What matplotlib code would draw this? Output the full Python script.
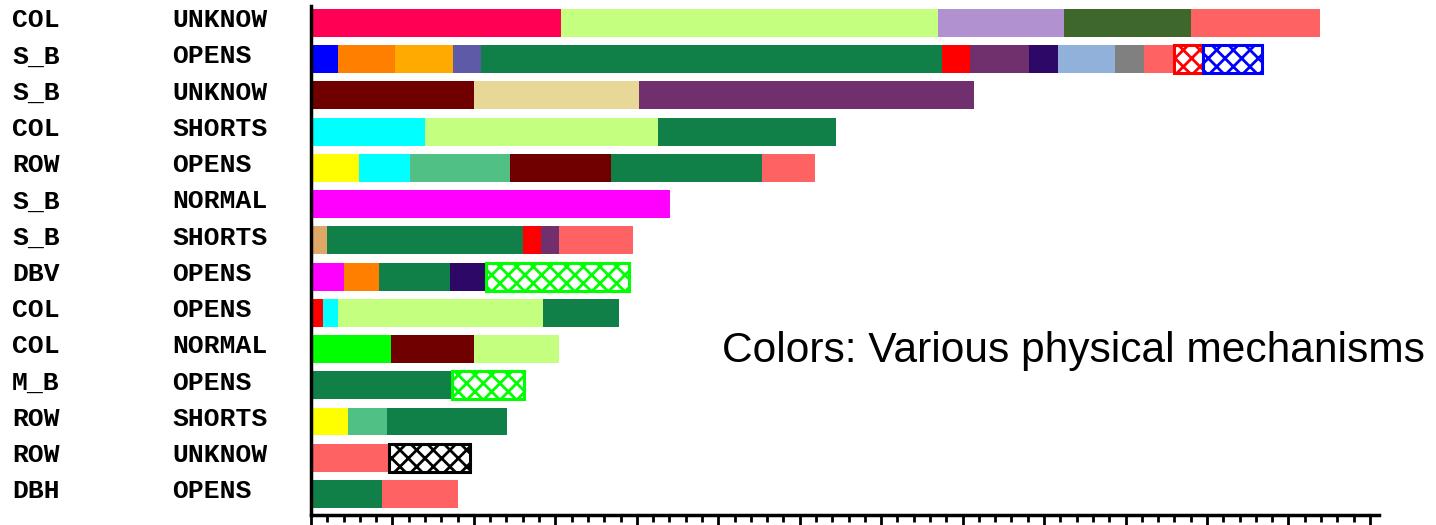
import matplotlib
matplotlib.use("Agg")
import matplotlib.pyplot as plt
from matplotlib.ticker import MultipleLocator
import matplotlib.transforms as mtransforms

# Component / failure mode for each row, top to bottom
components = ["COL", "S_B", "S_B", "COL", "ROW", "S_B", "S_B",
              "DBV", "COL", "COL", "M_B", "ROW", "ROW", "DBH"]
failure_modes = ["UNKNOW", "OPENS", "UNKNOW", "SHORTS", "OPENS", "NORMAL", "SHORTS",
                 "OPENS", "OPENS", "NORMAL", "OPENS", "SHORTS", "UNKNOW", "OPENS"]

# Segment lengths per row (stacked left to right)
segment_values = [
    [15.35, 23.16, 7.73, 7.78, 7.94],
    [1.64, 3.52, 3.54, 1.74, 28.32, 1.72, 3.57, 1.79, 3.51, 1.80, 1.80, 1.79, 3.63],
    [10.00, 10.13, 20.56],
    [7.00, 14.30, 10.93],
    [2.95, 3.11, 6.18, 6.18, 9.27, 3.27],
    [22.04],
    [0.98, 12.03, 1.10, 1.09, 4.56],
    [2.03, 2.17, 4.34, 2.19, 8.82],
    [0.76, 0.90, 12.58, 4.69],
    [4.91, 5.10, 5.22],
    [8.64, 4.44],
    [2.27, 2.39, 7.35],
    [4.79, 4.99],
    [4.36, 4.67],
]

# Mechanism colour of every segment
segment_colors = [
    ["#FF0055", "#C4FF80", "#B291D0", "#3E672C", "#FF6262"],
    ["#0000FF", "#FF8000", "#FFAA00", "#5E5AA8", "#118048", "#FF0000", "#70306E",
     "#2E0866", "#91B1DA", "#808080", "#FF6262", "#FF0000", "#0000FF"],
    ["#700000", "#E8D898", "#70306E"],
    ["#00FFFF", "#C4FF80", "#118048"],
    ["#FFFF00", "#00FFFF", "#50C084", "#700000", "#118048", "#FF6262"],
    ["#FF00FF"],
    ["#E0A868", "#118048", "#FF0000", "#70306E", "#FF6262"],
    ["#FF00FF", "#FF8000", "#118048", "#2E0866", "#00FF00"],
    ["#FF0000", "#00FFFF", "#C4FF80", "#118048"],
    ["#00FF00", "#700000", "#C4FF80"],
    ["#118048", "#00FF00"],
    ["#FFFF00", "#50C084", "#118048"],
    ["#FF6262", "#000000"],
    ["#118048", "#FF6262"],
]

# Segments drawn as cross-hatched outlines instead of solid fills
segment_hatched = [
    [False] * 5,
    [False] * 11 + [True, True],
    [False] * 3,
    [False] * 3,
    [False] * 6,
    [False],
    [False] * 5,
    [False] * 4 + [True],
    [False] * 4,
    [False] * 3,
    [False, True],
    [False] * 3,
    [False, True],
    [False] * 2,
]

annotation = "Colors: Various physical mechanisms"

plt.rcParams["hatch.linewidth"] = 2.0

W, H, DPI = 1436, 525, 100
fig = plt.figure(figsize=(W / DPI, H / DPI), dpi=DPI)
ax = fig.add_axes([311 / W, 10 / H, (1379 - 311) / W, (519.5 - 10) / H])

for row, (vals, cols, hatches) in enumerate(zip(segment_values, segment_colors, segment_hatched)):
    left = 0.0
    for v, c, h in zip(vals, cols, hatches):
        if h:
            ax.barh(row, v, left=left, height=0.77, facecolor="white",
                    edgecolor=c, hatch="xx", linewidth=2.2)
        else:
            ax.barh(row, v, left=left, height=0.77, color=c, linewidth=0)
        left += v

ax.set_ylim(13.58, -0.48)
ax.set_xlim(0, 65.56)

for side in ("top", "right"):
    ax.spines[side].set_visible(False)
ax.spines["left"].set_linewidth(2.5)
ax.spines["bottom"].set_linewidth(2.5)

ax.set_yticks([])
ax.xaxis.set_major_locator(MultipleLocator(5))
ax.xaxis.set_minor_locator(MultipleLocator(1))
ax.tick_params(axis="x", which="major", direction="out", length=12, width=2,
               labelbottom=False)
ax.tick_params(axis="x", which="minor", direction="out", length=5, width=2)

# Row labels in two text columns left of the axis
trans = mtransforms.blended_transform_factory(fig.transFigure, ax.transData)
label_font = dict(family="Liberation Mono", weight="bold", fontsize=19,
                  va="baseline", ha="left")
for row, (comp, mode) in enumerate(zip(components, failure_modes)):
    fig.text(12 / W, row + 0.12, comp, transform=trans, **label_font)
    fig.text(172 / W, row + 0.12, mode, transform=trans, **label_font)

fig.text(722 / W, (H - 362) / H, annotation, family="Liberation Sans",
         fontsize=30.6, ha="left", va="baseline")

fig.savefig("out.png", dpi=DPI)
